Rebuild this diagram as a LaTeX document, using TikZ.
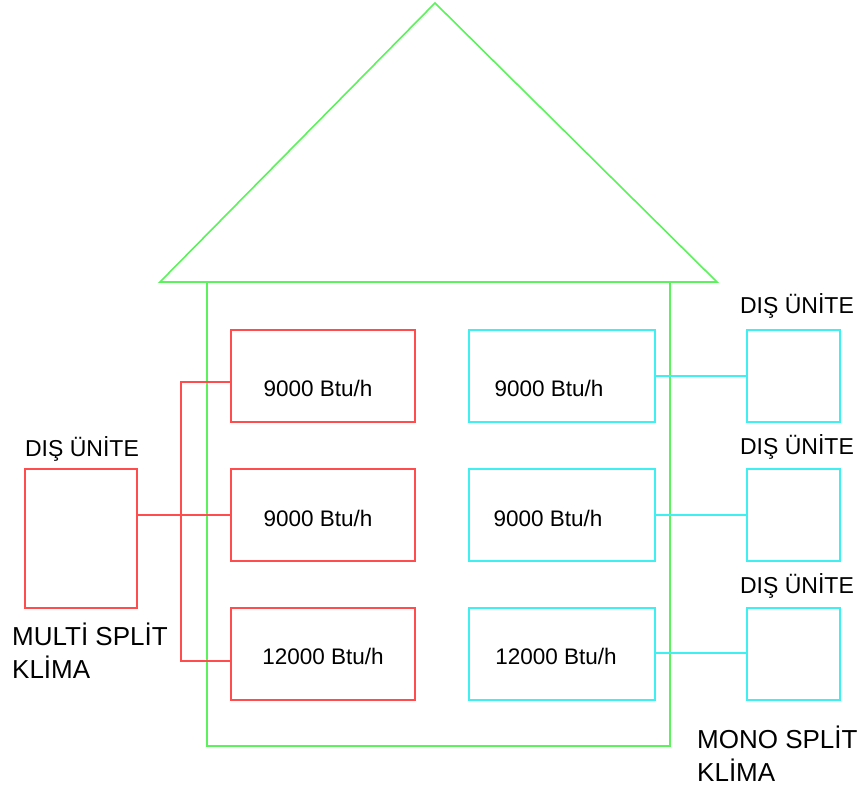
\documentclass[tikz,border=0pt]{standalone}
\usepackage{fontspec}
\setmainfont{Liberation Sans}
\definecolor{hgreen}{HTML}{5CF25C}
\definecolor{hred}{HTML}{FF4D4D}
\definecolor{hcyan}{HTML}{40F0F0}
\tikzset{
  box/.style={draw, line width=1.5pt, anchor=north west, inner sep=0pt},
  redbox/.style={box, hred, minimum width=184pt, minimum height=92pt},
  cyanbox/.style={box, hcyan, minimum width=186pt, minimum height=92pt},
  outbox/.style={box, hcyan, minimum width=93pt, minimum height=92pt},
  btu/.style={font=\fontsize{22.5}{26}\selectfont, inner sep=0pt},
  lbl/.style={font=\fontsize{23}{26}\selectfont, inner sep=0pt},
  big/.style={font=\fontsize{26}{33}\selectfont, inner sep=0pt, align=left, anchor=north west},
  redln/.style={hred, line width=1.5pt},
  cyanln/.style={hcyan, line width=1.5pt},
  greenln/.style={hgreen, line width=1.6pt}
}
\begin{document}
\begin{tikzpicture}[x=1pt,y=-1pt]
\useasboundingbox (0,0) rectangle (857,792);
% house
\draw[greenln] (160,282) -- (435,3) -- (717,282) -- cycle;
\draw[greenln] (207,282) rectangle (670,746);
% red indoor boxes
\node[redbox] (r1) at (230,329) {};
\node[redbox] (r2) at (230,468) {};
\node[redbox] (r3) at (230,607) {};
\node[btu] (tr1) at (318,388) {9000 Btu/h};
\node[btu] (tr2) at (318,518) {9000 Btu/h};
\node[btu] (tr3) at (323,656) {12000 Btu/h};
% cyan indoor boxes
\node[cyanbox] (c1) at (468,329) {};
\node[cyanbox] (c2) at (468,468) {};
\node[cyanbox] (c3) at (468,607) {};
\node[btu] (tc1) at (549,388) {9000 Btu/h};
\node[btu] (tc2) at (548,518) {9000 Btu/h};
\node[btu] (tc3) at (556,656) {12000 Btu/h};
% right outdoor units
\node[outbox] (o1) at (746,329) {};
\node[outbox] (o2) at (746,468) {};
\node[outbox] (o3) at (746,607) {};
\node[lbl] (lo1) at (797,306) {DIŞ ÜNİTE};
\node[lbl] (lo2) at (797,447) {DIŞ ÜNİTE};
\node[lbl] (lo3) at (797,586) {DIŞ ÜNİTE};
% left outdoor unit
\node[box, hred, minimum width=112pt, minimum height=139pt] (lo) at (24,468) {};
\node[lbl] (llo) at (82,449) {DIŞ ÜNİTE};
\node[big] (multi) at (12,623) {MULTİ SPLİT\\KLİMA};
\node[big] (mono) at (697,726) {MONO SPLİT\\KLİMA};
% cyan connectors
\draw[cyanln] (c1.east) -- (o1.west);
\draw[cyanln] (c2.east) -- (o2.west);
\draw[cyanln] ([yshift=1pt]c3.east) -- ([yshift=1pt]o3.west);
% red connectors
\coordinate (j1) at (181,382);
\coordinate (j2) at (181,661);
\draw[redln] (lo.east |- r2.west) -- (r2.west);
\draw[redln] (j1 -| r1.west) -- (j1) -- (j2) -- (j2 -| r3.west);
\end{tikzpicture}
\end{document}
